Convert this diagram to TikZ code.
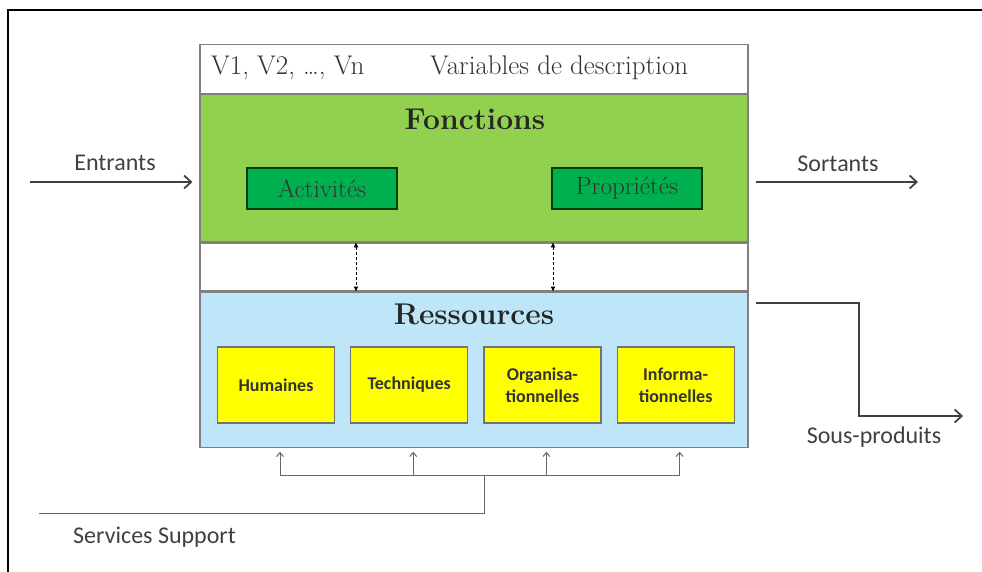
\documentclass[tikz,border=0pt]{standalone}
\usepackage{fontspec}
\newfontfamily\calibri{Carlito}
\usepackage{tikz}
\usetikzlibrary{arrows.meta, positioning}

\definecolor{vertclair}{HTML}{92D050}
\definecolor{vertfonce}{HTML}{00B050}
\definecolor{bleuclair}{HTML}{BEE6F8}
\definecolor{jaune}{HTML}{FFFF00}
\definecolor{gristrait}{HTML}{404040}

\tikzset{
  bande/.style={draw=gray, line width=1.2, fill=white, minimum width=548, inner sep=0, anchor=north},
  entetetxt/.style={font=\fontsize{27}{32}\selectfont, text=black!80, inner sep=0, anchor=west},
  titre/.style={font=\fontsize{30}{36}\selectfont\bfseries, text=black!85, inner sep=0},
  boiteverte/.style={draw=green!25!black, line width=1.2, fill=vertfonce, minimum width=150, minimum height=41, inner sep=0, font=\fontsize{25}{30}\selectfont, text=black!80},
  boitejaune/.style={draw=black!55, line width=1.2, fill=jaune, minimum width=117, minimum height=76, inner sep=0, align=center, font=\calibri\bfseries\fontsize{18}{22}\selectfont, text=black!80},
  etiq/.style={font=\calibri\fontsize{24}{28}\selectfont, text=black!75, inner sep=0},
  fleche/.style={draw=gristrait, line width=1.8, -{Straight Barb[length=7pt, width=13pt]}},
  support/.style={draw=gristrait!80, line width=1},
  pointille/.style={densely dashed, line width=0.8, {Latex[length=5pt, width=5pt]}-{Latex[length=5pt, width=5pt]}}
}

\begin{document}
\begin{tikzpicture}[x=1pt, y=-1pt]
  \useasboundingbox (0,0) rectangle (982,572);
  % Cadre
  \draw[line width=2] (8,572) -- (8,10) -- (982,10);
  % Bandes du systeme
  \node[bande, minimum height=49] (entete) at (474,44) {};
  \node[bande, fill=vertclair, minimum height=147] (fonc) at (entete.south) {};
  \node[bande, minimum height=48] (lien) at (fonc.south) {};
  \node[bande, fill=bleuclair, minimum height=155] (res) at (lien.south) {};
  % Variables
  \node[entetetxt] (vars) at (211,68) {V1, V2, \ldots, Vn};
  \node[entetetxt] (desc) at (430,68) {Variables de description};
  % Fonctions
  \node[titre] (tfonc) at (475,119) {Fonctions};
  \node[boiteverte] (act) at (322,188.5) {Activités};
  \node[boiteverte] (prop) at (627,188.5) {Propriétés};
  % Ressources
  \node[titre] (tres) at (474,314) {Ressources};
  \node[boitejaune] (hum) at (276,385) {Humaines};
  \node[boitejaune, right=15 of hum] (tech) {Techniques};
  \node[boitejaune, right=15 of tech] (org) {Organisa-\\tionnelles};
  \node[boitejaune, right=15 of org] (info) {Informa-\\tionnelles};
  % Liens fonctions / ressources
  \foreach \x in {356,553}
    \draw[pointille] (fonc.south -| \x,0) -- (res.north -| \x,0);
  % Entrants et sortants
  \coordinate (ein) at (30,182);
  \coordinate (sout) at (918,182);
  \draw[fleche] (ein) -- ([xshift=-7]fonc.west |- ein);
  \draw[fleche] ([xshift=7]fonc.east |- sout) -- (sout);
  \node[etiq] (lent) at (115,163) {Entrants};
  \node[etiq] (lsort) at (838,164) {Sortants};
  % Sous-produits
  \coordinate (sp) at (963,416);
  \draw[fleche] ([shift={(7,11)}]res.north east) -| ([xshift=-104]sp) -- (sp);
  \node[etiq] (lsp) at (874,437) {Sous-produits};
  % Services support
  \coordinate (bus) at (484,475);
  \coordinate (coin) at (484,513);
  \coordinate (serv) at (39,513);
  \foreach \b in {hum,tech,org,info}
    \draw[support, -{Straight Barb[length=4pt, width=7pt]}] ([xshift=4]\b.south |- bus) -- ([shift={(4,4)}]\b.south |- res.south);
  \draw[support] ([xshift=4]hum.south |- bus) -- ([xshift=4]info.south |- bus);
  \draw[support] (bus) -- (coin) -- (serv);
  \node[etiq, anchor=west] (lserv) at (73,537) {Services Support};
\end{tikzpicture}
\end{document}
